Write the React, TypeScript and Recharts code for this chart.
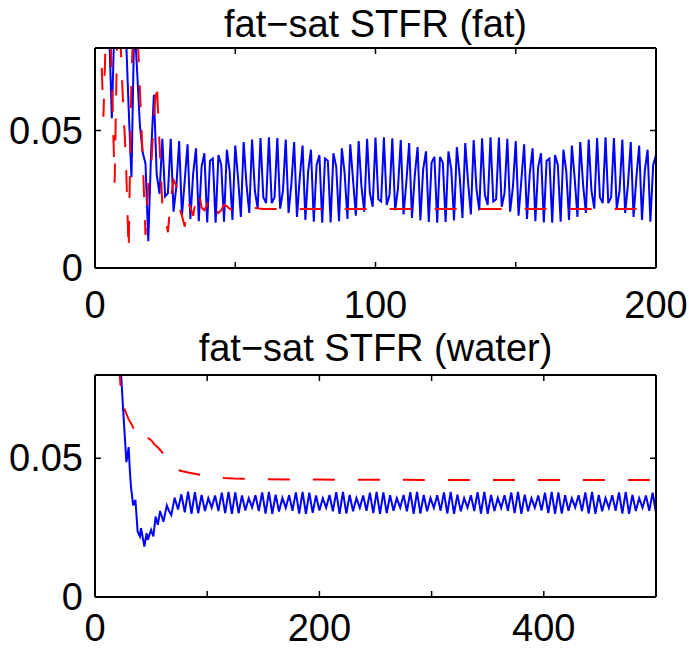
import { LineChart, Line, XAxis, YAxis } from 'recharts';

// fat panel, one value per echo (x = 1..200)
const fatBlue = [
  0.12, 0.11, 0.1, 0.095, 0.088, 0.0545, 0.092, 0.1, 0.095, 0.09,
  0.086, 0.058, 0.033, 0.09, 0.072, 0.052, 0.042, 0.038, 0.0097, 0.042,
  0.063, 0.034, 0.027, 0.047, 0.026, 0.0272, 0.047, 0.0205, 0.0296, 0.0462,
  0.019, 0.032, 0.045, 0.0178, 0.0344, 0.0435, 0.017, 0.0368, 0.0417, 0.0166,
  0.039, 0.0398, 0.0165, 0.0411, 0.0375, 0.0168, 0.043, 0.0352, 0.0175, 0.0445,
  0.0328, 0.0186, 0.0458, 0.0304, 0.02, 0.0467, 0.028, 0.0216, 0.0473, 0.0257,
  0.0236, 0.0475, 0.0236, 0.0257, 0.0473, 0.0216, 0.028, 0.0467, 0.02, 0.0304,
  0.0458, 0.0186, 0.0328, 0.0445, 0.0175, 0.0352, 0.043, 0.0168, 0.0375, 0.0411,
  0.0165, 0.0398, 0.039, 0.0166, 0.0417, 0.0368, 0.017, 0.0435, 0.0344, 0.0178,
  0.045, 0.032, 0.019, 0.0462, 0.0296, 0.0205, 0.047, 0.0272, 0.0223, 0.0474,
  0.025, 0.0242, 0.0475, 0.0229, 0.0265, 0.0472, 0.021, 0.0288, 0.0465, 0.0195,
  0.0312, 0.0454, 0.0182, 0.0336, 0.044, 0.0173, 0.036, 0.0424, 0.0167, 0.0383,
  0.0404, 0.0165, 0.0404, 0.0383, 0.0167, 0.0424, 0.036, 0.0173, 0.044, 0.0336,
  0.0182, 0.0454, 0.0312, 0.0195, 0.0465, 0.0288, 0.021, 0.0472, 0.0265, 0.0229,
  0.0475, 0.0242, 0.025, 0.0474, 0.0223, 0.0272, 0.047, 0.0205, 0.0296, 0.0462,
  0.019, 0.032, 0.045, 0.0178, 0.0344, 0.0435, 0.017, 0.0368, 0.0417, 0.0166,
  0.039, 0.0398, 0.0165, 0.0411, 0.0375, 0.0168, 0.043, 0.0352, 0.0175, 0.0445,
  0.0328, 0.0186, 0.0458, 0.0304, 0.02, 0.0467, 0.028, 0.0216, 0.0473, 0.0257,
  0.0236, 0.0475, 0.0236, 0.0257, 0.0473, 0.0216, 0.028, 0.0467, 0.02, 0.0304,
  0.0458, 0.0186, 0.0328, 0.0445, 0.0175, 0.0352, 0.043, 0.0168, 0.0375, 0.0411,
];

// red curve: every echo for the first 50, then it sits flat
const fatRedHead = [
  0.1, 0.085, 0.055, 0.09, 0.1, 0.07, 0.031, 0.09, 0.085, 0.06,
  0.04, 0.006, 0.07, 0.095, 0.09, 0.065, 0.04, 0.012, 0.03, 0.036,
  0.055, 0.068, 0.045, 0.023, 0.02, 0.013, 0.025, 0.032, 0.03, 0.022,
  0.019, 0.015, 0.024, 0.022, 0.019, 0.025, 0.028, 0.022, 0.021, 0.023,
  0.026, 0.024, 0.021, 0.02, 0.021, 0.023, 0.0225, 0.0215, 0.021, 0.0215,
];
const fatRedTailX = [55, 60, 80, 100, 120, 140, 160, 180, 200];
const fatRedTail = [0.022, 0.0215, 0.0215, 0.0215, 0.0215, 0.0215, 0.0215, 0.0215, 0.0215];

// water panel
const waterBlueHeadX = [1, 8, 15, 20, 23, 25, 27, 28, 30, 31, 32, 34, 36, 38, 40, 41, 44, 46, 47, 50, 52, 54, 56, 58, 61, 64, 66, 68];
const waterBlueHead = [
  0.3, 0.2, 0.13, 0.095, 0.082, 0.068, 0.055, 0.0486, 0.054, 0.046,
  0.04, 0.033, 0.035, 0.0236, 0.0218, 0.0248, 0.0182, 0.023, 0.0206, 0.0242,
  0.0218, 0.029, 0.026, 0.031, 0.0271, 0.033, 0.031, 0.0295,
];
// after the transient: peak / trough pairs read every 3 echoes from x = 71
const waterSteadyStart = 71;
const waterSteadyStep = 3;
const waterBlueSteady = [
  0.0358, 0.0315, 0.037, 0.0305, 0.038, 0.03, 0.0378, 0.0302, 0.0368, 0.031,
  0.0356, 0.0322, 0.0366, 0.031, 0.0376, 0.0302, 0.0379, 0.03, 0.0377, 0.0302,
  0.0366, 0.0312, 0.0356, 0.0323, 0.0367, 0.031, 0.0377, 0.0301, 0.0379, 0.03,
  0.0369, 0.0308, 0.0357, 0.0321, 0.0367, 0.0311, 0.0377, 0.0301, 0.0379, 0.03,
  0.0376, 0.0303, 0.0366, 0.0312, 0.0356, 0.0322, 0.0368, 0.0309, 0.0378, 0.03,
  0.0379, 0.0301, 0.0368, 0.0309, 0.0357, 0.0321, 0.0366, 0.0311, 0.0376, 0.0302,
  0.0379, 0.03, 0.0377, 0.0302, 0.0367, 0.0311, 0.0356, 0.0322, 0.0368, 0.0309,
  0.0378, 0.03, 0.0379, 0.0301, 0.0368, 0.0309, 0.0357, 0.0321, 0.0367, 0.0311,
  0.0377, 0.0301, 0.0379, 0.03, 0.0369, 0.0309, 0.0356, 0.0322, 0.0367, 0.031,
  0.0378, 0.0301, 0.0379, 0.03, 0.0368, 0.031, 0.0357, 0.0321, 0.0367, 0.0311,
  0.0377, 0.0302, 0.0379, 0.03, 0.0369, 0.0309, 0.0356, 0.0322, 0.0366, 0.0312,
  0.0376, 0.0302, 0.0379, 0.03, 0.0377, 0.0301, 0.0367, 0.0311, 0.0356, 0.0323,
  0.0367, 0.031, 0.0377, 0.0301, 0.0379, 0.03, 0.0368, 0.0309, 0.0357, 0.0321,
  0.0367, 0.0311, 0.0377, 0.0301, 0.0379, 0.03, 0.0368, 0.031, 0.0356, 0.0322,
  0.0366, 0.0311, 0.0376, 0.0302,
];
const waterRedX = [1, 10, 18, 21, 23, 25, 27, 30, 33, 35, 37, 40, 45, 50, 53, 57, 62, 66, 70, 76, 84, 95, 103, 115, 124, 133, 150, 200, 300, 500];
const waterRed = [
  0.3, 0.16, 0.1, 0.085, 0.075, 0.07, 0.067, 0.064, 0.062, 0.06,
  0.0615, 0.0606, 0.058, 0.0565, 0.055, 0.0535, 0.051, 0.049, 0.047, 0.0455,
  0.0448, 0.044, 0.0433, 0.0429, 0.0427, 0.0426, 0.0424, 0.0423, 0.0422, 0.0422,
];

const fatXTicks = [0, 50, 100, 150, 200];
const fatXLabels = [0, 100, 200];
const waterXTicks = [0, 100, 200, 300, 400, 500];
const waterXLabels = [0, 200, 400];
const yTicks = [0, 0.05];
const yLabels = ['0', '0.05'];

const fatBlueData = fatBlue.map((y, i) => ({ x: i + 1, y }));
const fatRedData = [
  ...fatRedHead.map((y, i) => ({ x: i + 1, y })),
  ...fatRedTailX.map((x, i) => ({ x, y: fatRedTail[i] })),
];
const waterBlueData = [
  ...waterBlueHeadX.map((x, i) => ({ x, y: waterBlueHead[i] })),
  ...waterBlueSteady.map((y, i) => ({ x: waterSteadyStart + waterSteadyStep * i, y })),
];
const waterRedData = waterRedX.map((x, i) => ({ x, y: waterRed[i] }));

const font = "'Liberation Sans', Arial, Helvetica, sans-serif";
const TICK = 6;
const axisLine = { stroke: '#000', strokeWidth: 2 };

const bottomTick = (labels: number[], dy: number) => (p: any) => (
  <g>
    <line x1={p.x} y1={p.y} x2={p.x} y2={p.y - TICK} stroke="#000" strokeWidth={1.5} />
    {labels.includes(p.payload.value) && (
      <text x={p.x} y={p.y + dy} textAnchor="middle" fontSize={38} fontFamily={font} fill="#000">
        {p.payload.value}
      </text>
    )}
  </g>
);
const topTick = (p: any) => (
  <line x1={p.x} y1={p.y} x2={p.x} y2={p.y + TICK} stroke="#000" strokeWidth={1.5} />
);
const leftTick = (p: any) => (
  <g>
    <line x1={p.x} y1={p.y} x2={p.x + TICK} y2={p.y} stroke="#000" strokeWidth={1.5} />
    <text x={p.x - 12} y={p.y + 13} textAnchor="end" fontSize={38} fontFamily={font} fill="#000">
      {yLabels[yTicks.indexOf(p.payload.value)]}
    </text>
  </g>
);
const rightTick = (p: any) => (
  <line x1={p.x} y1={p.y} x2={p.x - TICK} y2={p.y} stroke="#000" strokeWidth={1.5} />
);

interface PanelProps {
  top: number;
  height: number;
  margin: { top: number; right: number; bottom: number; left: number };
  xMax: number;
  xTicks: number[];
  xLabels: number[];
  labelDy: number;
  dashOffset: number;
  blue: { x: number; y: number }[];
  red: { x: number; y: number }[];
}

// axes get 1px of room each (recharts skips axes of zero size), margins are trimmed to match
function Panel({ top, height, margin, xMax, xTicks, xLabels, labelDy, dashOffset, blue, red }: PanelProps) {
  const m = {
    top: margin.top - 1,
    right: margin.right - 1,
    bottom: margin.bottom - 1,
    left: margin.left - 1,
  };
  return (
    <div style={{ position: 'absolute', left: 0, top }}>
      <LineChart width={689} height={height} margin={m}>
        <XAxis
          xAxisId="b" dataKey="x" type="number" domain={[0, xMax]} ticks={xTicks} interval={0}
          allowDataOverflow height={1} tickSize={0} tickMargin={0} tickLine={false}
          axisLine={axisLine} tick={bottomTick(xLabels, labelDy)}
        />
        <XAxis
          xAxisId="t" orientation="top" dataKey="x" type="number" domain={[0, xMax]} ticks={xTicks}
          interval={0} allowDataOverflow height={1} tickSize={0} tickMargin={0} tickLine={false}
          axisLine={axisLine} tick={topTick}
        />
        <YAxis
          yAxisId="l" type="number" domain={[0, 0.08]} ticks={yTicks} interval={0} allowDataOverflow
          width={1} tickSize={0} tickMargin={0} tickLine={false} axisLine={axisLine} tick={leftTick}
        />
        <YAxis
          yAxisId="r" orientation="right" type="number" domain={[0, 0.08]} ticks={yTicks} interval={0}
          allowDataOverflow width={1} tickSize={0} tickMargin={0} tickLine={false}
          axisLine={axisLine} tick={rightTick}
        />
        <Line
          xAxisId="b" yAxisId="l" data={blue} dataKey="y" type="linear" stroke="#0000ff"
          strokeWidth={2} dot={false} isAnimationActive={false}
        />
        <Line
          xAxisId="b" yAxisId="l" data={red} dataKey="y" type="linear" stroke="#ff0000"
          strokeWidth={2} strokeDasharray="22 23" strokeDashoffset={dashOffset}
          dot={false} isAnimationActive={false}
        />
      </LineChart>
    </div>
  );
}

export default function App() {
  return (
    <div style={{ position: 'absolute', left: 0, top: 0, width: 689, height: 649, background: '#fff' }}>
      <Panel
        top={0} height={325} margin={{ top: 48, right: 33, bottom: 57, left: 95 }}
        xMax={200} xTicks={fatXTicks} xLabels={fatXLabels} labelDy={50} dashOffset={15}
        blue={fatBlueData} red={fatRedData}
      />
      <Panel
        top={325} height={324} margin={{ top: 50, right: 33, bottom: 52, left: 95 }}
        xMax={500} xTicks={waterXTicks} xLabels={waterXLabels} labelDy={44} dashOffset={-15}
        blue={waterBlueData} red={waterRedData}
      />
      <svg width={689} height={649} style={{ position: 'absolute', left: 0, top: 0, pointerEvents: 'none' }}>
        <text x={375.5} y={37} textAnchor="middle" fontSize={38} fontFamily={font} fill="#000">
          fat−sat STFR (fat)
        </text>
        <text x={375.5} y={361} textAnchor="middle" fontSize={38} fontFamily={font} fill="#000">
          fat−sat STFR (water)
        </text>
      </svg>
    </div>
  );
}
